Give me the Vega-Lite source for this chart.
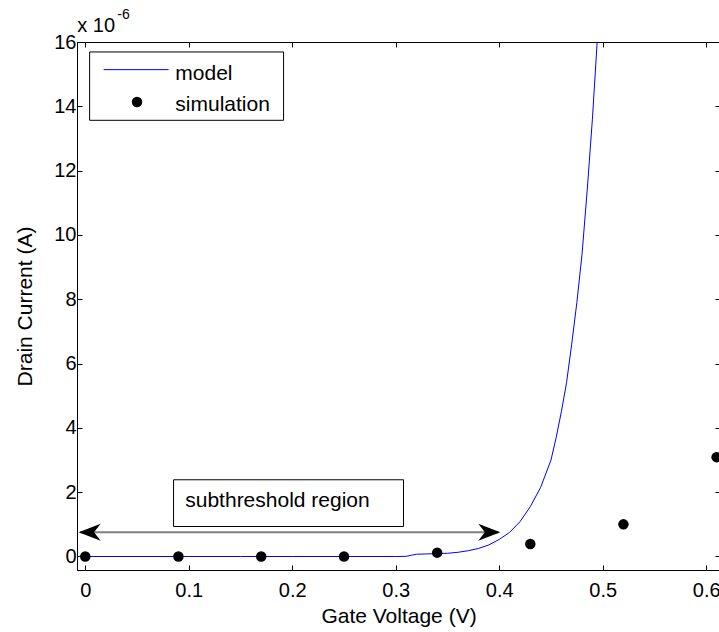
{
  "$schema": "https://vega.github.io/schema/vega-lite/v6.json",
  "width": 643,
  "height": 528,
  "autosize": {"type": "none"},
  "padding": {"left": 77, "top": 42, "right": 0, "bottom": 62},
  "background": "white",
  "config": {
    "view": {"stroke": "black", "strokeWidth": 1},
    "font": "Liberation Sans",
    "axis": {
      "grid": false,
      "domainColor": "black",
      "tickColor": "black",
      "labelColor": "black",
      "titleColor": "black",
      "labelFont": "Liberation Sans",
      "titleFont": "Liberation Sans",
      "labelFontSize": 20,
      "titleFontSize": 21,
      "titleFontWeight": "normal",
      "tickSize": -5
    }
  },
  "datasets": {
    "model": [
      {"v": 0, "i": 0}, {"v": 0.05, "i": 0}, {"v": 0.1, "i": 0}, {"v": 0.15, "i": 0},
      {"v": 0.2, "i": 0}, {"v": 0.25, "i": 0}, {"v": 0.3, "i": 0}, {"v": 0.31, "i": 0.005},
      {"v": 0.315, "i": 0.04}, {"v": 0.32, "i": 0.07}, {"v": 0.33, "i": 0.08}, {"v": 0.34, "i": 0.09},
      {"v": 0.35, "i": 0.1}, {"v": 0.36, "i": 0.13}, {"v": 0.37, "i": 0.18}, {"v": 0.38, "i": 0.25},
      {"v": 0.39, "i": 0.36}, {"v": 0.4, "i": 0.53}, {"v": 0.41, "i": 0.75}, {"v": 0.42, "i": 1.08},
      {"v": 0.43, "i": 1.55}, {"v": 0.44, "i": 2.15}, {"v": 0.45, "i": 3.0}, {"v": 0.455, "i": 3.7},
      {"v": 0.46, "i": 4.5}, {"v": 0.465, "i": 5.4}, {"v": 0.47, "i": 6.6}, {"v": 0.475, "i": 7.9},
      {"v": 0.48, "i": 9.4}, {"v": 0.485, "i": 11.4}, {"v": 0.49, "i": 13.6}, {"v": 0.495, "i": 16.2},
      {"v": 0.5, "i": 19.2}
    ],
    "simulation": [
      {"v": 0, "i": 0}, {"v": 0.09, "i": 0}, {"v": 0.17, "i": 0}, {"v": 0.25, "i": 0},
      {"v": 0.34, "i": 0.12}, {"v": 0.43, "i": 0.39}, {"v": 0.52, "i": 1.0}, {"v": 0.61, "i": 3.09}
    ]
  },
  "layer": [
    {
      "data": {"name": "model"},
      "mark": {"type": "line", "color": "#0000ff", "strokeWidth": 1, "clip": true},
      "encoding": {
        "x": {"field": "v", "type": "quantitative",
              "scale": {"domain": [-0.008, 0.6133], "nice": false, "zero": false},
              "axis": {"orient": "bottom", "values": [0, 0.1, 0.2, 0.3, 0.4, 0.5, 0.6], "format": "~g",
                       "title": "Gate Voltage (V)", "labelPadding": 15, "titlePadding": 5}},
        "y": {"field": "i", "type": "quantitative",
              "scale": {"domain": [-0.42, 16], "nice": false, "zero": false},
              "axis": {"orient": "left", "values": [0, 2, 4, 6, 8, 10, 12, 14, 16], "format": "~g",
                       "title": "Drain Current (A)", "labelPadding": 6, "titlePadding": 18}}
      }
    },
    {
      "data": {"name": "simulation"},
      "mark": {"type": "point", "filled": true, "color": "black", "opacity": 1, "size": 110},
      "encoding": {
        "x": {"field": "v", "type": "quantitative", "axis": null},
        "y": {"field": "i", "type": "quantitative", "axis": null}
      }
    },
    {
      "data": {"name": "simulation"},
      "mark": {"type": "point", "opacity": 0},
      "encoding": {
        "x": {"field": "v", "type": "quantitative",
              "axis": {"orient": "top", "values": [0, 0.1, 0.2, 0.3, 0.4, 0.5, 0.6], "labels": false, "domain": false, "title": null}},
        "y": {"field": "i", "type": "quantitative",
              "axis": {"orient": "right", "values": [0, 2, 4, 6, 8, 10, 12, 14, 16], "labels": false, "domain": false, "title": null}}
      }
    },
    {
      "data": {"values": [{}]},
      "mark": {"type": "rect", "fill": "white", "stroke": "black", "strokeWidth": 1},
      "encoding": {
        "x": {"datum": 0.0853, "type": "quantitative", "axis": null},
        "x2": {"datum": 0.3075},
        "y": {"datum": 2.386, "type": "quantitative", "axis": null},
        "y2": {"datum": 0.933}
      }
    },
    {
      "data": {"values": [{}]},
      "mark": {"type": "text", "text": "subthreshold region", "fontSize": 21, "align": "left", "baseline": "alphabetic", "color": "black", "font": "Liberation Sans"},
      "encoding": {
        "x": {"datum": 0.0966, "type": "quantitative", "axis": null},
        "y": {"datum": 1.54, "type": "quantitative", "axis": null}
      }
    },
    {
      "data": {"values": [{}]},
      "mark": {"type": "rule", "color": "#7f7f7f", "strokeWidth": 2},
      "encoding": {
        "x": {"datum": -0.005, "type": "quantitative", "axis": null},
        "x2": {"datum": 0.399},
        "y": {"datum": 0.756, "type": "quantitative", "axis": null}
      }
    },
    {
      "data": {"values": [{}]},
      "mark": {"type": "point", "filled": true, "color": "black", "opacity": 1, "size": 484,
               "shape": "M0,0 L-2,-0.77 L-1.4,0 L-2,0.77 Z"},
      "encoding": {
        "x": {"datum": 0.401, "type": "quantitative", "axis": null},
        "y": {"datum": 0.756, "type": "quantitative", "axis": null}
      }
    },
    {
      "data": {"values": [{}]},
      "mark": {"type": "point", "filled": true, "color": "black", "opacity": 1, "size": 484,
               "shape": "M0,0 L2,-0.77 L1.4,0 L2,0.77 Z"},
      "encoding": {
        "x": {"datum": -0.0064, "type": "quantitative", "axis": null},
        "y": {"datum": 0.756, "type": "quantitative", "axis": null}
      }
    },
    {
      "data": {"values": [{}]},
      "mark": {"type": "rect", "fill": "white", "stroke": "black", "strokeWidth": 1},
      "encoding": {
        "x": {"datum": 0.0042, "type": "quantitative", "axis": null},
        "x2": {"datum": 0.1916},
        "y": {"datum": 15.69, "type": "quantitative", "axis": null},
        "y2": {"datum": 13.565}
      }
    },
    {
      "data": {"values": [{}]},
      "mark": {"type": "rule", "color": "#0000ff", "strokeWidth": 1},
      "encoding": {
        "x": {"datum": 0.0177, "type": "quantitative", "axis": null},
        "x2": {"datum": 0.0805},
        "y": {"datum": 15.14, "type": "quantitative", "axis": null}
      }
    },
    {
      "data": {"values": [{}]},
      "mark": {"type": "point", "filled": true, "color": "black", "opacity": 1, "size": 110},
      "encoding": {
        "x": {"datum": 0.05, "type": "quantitative", "axis": null},
        "y": {"datum": 14.135, "type": "quantitative", "axis": null}
      }
    },
    {
      "data": {"values": [{}]},
      "mark": {"type": "text", "text": "model", "fontSize": 21, "align": "left", "baseline": "alphabetic", "color": "black", "font": "Liberation Sans"},
      "encoding": {
        "x": {"datum": 0.087, "type": "quantitative", "axis": null},
        "y": {"datum": 14.83, "type": "quantitative", "axis": null}
      }
    },
    {
      "data": {"values": [{}]},
      "mark": {"type": "text", "text": "simulation", "fontSize": 21, "align": "left", "baseline": "alphabetic", "color": "black", "font": "Liberation Sans"},
      "encoding": {
        "x": {"datum": 0.087, "type": "quantitative", "axis": null},
        "y": {"datum": 13.86, "type": "quantitative", "axis": null}
      }
    },
    {
      "data": {"values": [{}]},
      "mark": {"type": "text", "text": "x 10", "fontSize": 20, "align": "left", "baseline": "alphabetic", "color": "black", "font": "Liberation Sans"},
      "encoding": {
        "x": {"datum": -0.0077, "type": "quantitative", "axis": null},
        "y": {"datum": 16.32, "type": "quantitative", "axis": null}
      }
    },
    {
      "data": {"values": [{}]},
      "mark": {"type": "text", "text": "-6", "fontSize": 14, "align": "left", "baseline": "alphabetic", "color": "black", "font": "Liberation Sans"},
      "encoding": {
        "x": {"datum": 0.0309, "type": "quantitative", "axis": null},
        "y": {"datum": 16.72, "type": "quantitative", "axis": null}
      }
    }
  ]
}
